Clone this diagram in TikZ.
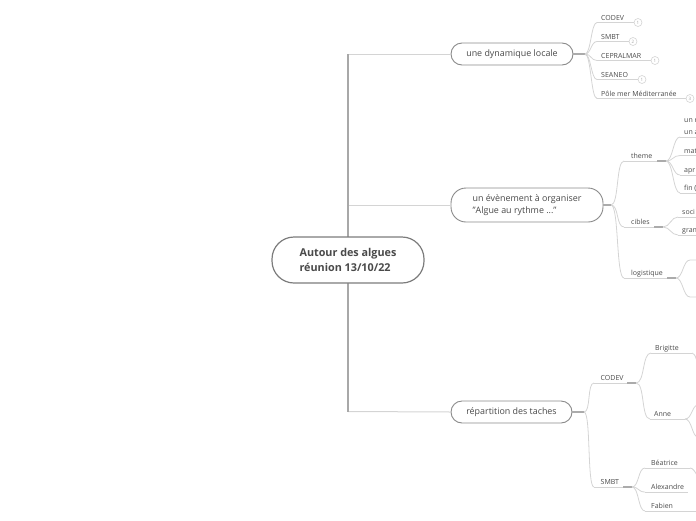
\documentclass[tikz,border=0pt]{standalone}
\usepackage{fontspec}
\setmainfont{Open Sans}
\definecolor{txt}{HTML}{4A4A4A}
\definecolor{ln}{HTML}{D4D4D4}
\definecolor{jn}{HTML}{ABABAB}
\definecolor{bd}{HTML}{8A8A8A}
\definecolor{trk}{HTML}{A8A8A8}
\tikzset{
  central/.style={draw=bd!90!black, line width=1.2pt, rounded corners=22pt, fill=white,
    minimum width=152pt, minimum height=46pt, align=left, text=txt,
    font=\bfseries\fontsize{10.8}{15}\selectfont},
  mainbox/.style={draw=bd, line width=0.9pt, rounded corners=11pt, fill=white,
    minimum height=22pt, text=txt, font=\fontsize{8.9}{11.5}\selectfont},
  leaf/.style={anchor=south west, inner xsep=4pt, inner ysep=0.5pt, text height=5pt,
    text depth=1.6pt, text=txt, font=\fontsize{7}{8}\selectfont},
  plain/.style={anchor=base west, inner sep=0pt, text=txt, font=\fontsize{7}{8}\selectfont},
  conn/.style={draw=ln, line width=0.8pt},
  junc/.style={draw=jn, line width=1.8pt},
  trunk/.style={draw=trk, line width=1.8pt},
  branch/.style={draw=ln, line width=1pt},
  num/.style={circle, draw=ln, line width=0.6pt, minimum size=8pt, inner sep=0pt,
    fill=white, text=black!35, font=\fontsize{4.5}{5}\selectfont},
}
\begin{document}
\begin{tikzpicture}[x=1pt,y=-1pt]
\useasboundingbox (0,0) rectangle (696,520);
\clip (0,0) rectangle (696,520);

% trunk and main branches
\coordinate (t1) at (348,54);
\coordinate (t2) at (348,205);
\coordinate (t3) at (348,411.5);
\node[mainbox, minimum width=122pt] (n1) at (512,54) {une dynamique locale};
\node[mainbox, minimum width=152pt, minimum height=34pt, rounded corners=15pt, align=left] (n2) at (527,205) {un évènement à organiser\\"Algue au rythme ..."};
\node[mainbox, minimum width=121pt] (n3) at (511.5,412) {répartition des taches};
\draw[branch] (t1) -- (n1.west);
\draw[branch] (t2) -- (n2.west);
\draw[branch] (t3) -- (n3.west);
\draw[trunk] (t1) -- (t3);
\node[central] (c) at (348,260) {Autour des algues\\réunion 13/10/22};

% ---------- group 1
\coordinate (r1) at (585,54);
\draw[junc] (n1.east) -- (r1);
\node[leaf] (a1) at (597,22.5) {CODEV};
\node[leaf] (a2) at (597,41.5) {SMBT};
\node[leaf] (a3) at (597,60.5) {CEPRALMAR};
\node[leaf] (a4) at (597,79.5) {SEANEO};
\node[leaf] (a5) at (597,98.5) {Pôle mer Méditerranée};
\node[num] (k1) at (638,22.5) {1};
\node[num] (k2) at (633,41.5) {2};
\node[num] (k3) at (655,60.5) {1};
\node[num] (k4) at (642,79.5) {1};
\node[num] (k5) at (690,98.5) {3};
\foreach \i in {1,...,5}{
  \draw[conn] (r1) .. controls +(6,0) and +(-6,0) .. (a\i.south west);
  \draw[conn] (a\i.south west) -- (k\i.west);
}

% ---------- group 2
\coordinate (r2) at (611,205);
\draw[junc] (n2.east) -- (r2);
\node[leaf, inner xsep=7pt] (theme) at (624,161) {theme};
\node[leaf, inner xsep=7pt] (cibles) at (624,227) {cibles};
\node[leaf, inner xsep=7pt] (logi) at (624,278) {logistique};
\coordinate (jT) at (666,161);
\coordinate (jC) at (663,227);
\coordinate (jL) at (676,278);
\foreach \n/\j in {theme/jT,cibles/jC,logi/jL}{
  \draw[conn] (r2) .. controls +(8,0) and +(-8,0) .. (\n.south west);
  \draw[conn] (\n.south west) -- (\j);
  \draw[junc] ([xshift=-9pt]\j) -- (\j);
}
% theme children
\node[plain] (unr) at (684,122.5) {un r};
\node[leaf] (una) at (680,137) {un a};
\node[leaf] (mat) at (680,155.5) {mat};
\node[leaf] (apr) at (680,175) {apr};
\node[leaf] (fin) at (680,193) {fin (};
\foreach \n in {una,mat,apr,fin}{
  \draw[conn] (jT) .. controls +(7,0) and +(-7,0) .. (\n.south west);
  \draw[conn] (\n.south west) -- ++(30,0);
}
% cibles children
\node[leaf] (soci) at (678,217) {soci};
\node[leaf] (gran) at (678,235) {gran};
\foreach \n in {soci,gran}{
  \draw[conn] (jC) .. controls +(7,0) and +(-7,0) .. (\n.south west);
  \draw[conn] (\n.south west) -- ++(30,0);
}
% logistique children (off page)
\coordinate (lg1) at (690,260);
\coordinate (lg2) at (690,297);
\coordinate (lg1e) at (705,260);
\coordinate (lg2e) at (705,297);
\draw[conn] (jL) .. controls +(7,0) and +(-7,0) .. (lg1) -- (lg1e);
\draw[conn] (jL) .. controls +(7,0) and +(-7,0) .. (lg2) -- (lg2e);

% ---------- group 3
\coordinate (r3) at (584,412);
\draw[junc] (n3.east) -- (r3);
\node[leaf, inner xsep=6.5pt] (codev) at (594,383) {CODEV};
\node[leaf, inner xsep=6.5pt] (smbt) at (594,487) {SMBT};
\coordinate (jCo) at (636,383);
\coordinate (jSm) at (632,487);
\foreach \n/\j in {codev/jCo,smbt/jSm}{
  \draw[conn] (r3) .. controls +(7,0) and +(-7,0) .. (\n.south west);
  \draw[conn] (\n.south west) -- (\j);
  \draw[junc] ([xshift=-9pt]\j) -- (\j);
}
\node[leaf] (bri) at (651,353) {Brigitte};
\node[leaf] (anne) at (650,419) {Anne};
\coordinate (jBr) at (692,353);
\coordinate (jAn) at (685,419);
\draw[conn] (jCo) .. controls +(9,0) and +(-9,0) .. (bri.south west);
\draw[conn] (jCo) .. controls +(9,0) and +(-9,0) .. (anne.south west);
\draw[conn] (bri.south west) -- (jBr);
\draw[conn] (anne.south west) -- (jAn);
\coordinate (brE) at (706,392);
\draw[conn] (jBr) .. controls +(7,0) and +(-6,0) .. (brE);
\coordinate (an1) at (698,405);
\coordinate (an2) at (698,437);
\draw[conn] (jAn) .. controls +(7,0) and +(-6,0) .. (an1) -- ++(10,0);
\draw[conn] (jAn) .. controls +(7,0) and +(-6,0) .. (an2) -- ++(10,0);

\node[leaf, inner xsep=6pt] (bea) at (645,468) {Béatrice};
\node[leaf, inner xsep=6pt] (alex) at (645,492) {Alexandre};
\node[leaf, inner xsep=6pt] (fab) at (645,511) {Fabien};
\foreach \n in {bea,alex,fab}{
  \draw[conn] (jSm) .. controls +(7,0) and +(-7,0) .. (\n.south west);
}
\coordinate (jBe) at (690,468);
\draw[conn] (bea.south west) -- (jBe);
\coordinate (beE) at (704,484);
\draw[conn] (jBe) .. controls +(6,0) and +(-5,0) .. (beE);
\coordinate (alE) at (688,492);
\draw[conn] (alex.south west) -- (alE);
\coordinate (faE) at (705,511);
\draw[conn] (fab.south west) -- (faE);
\end{tikzpicture}
\end{document}
